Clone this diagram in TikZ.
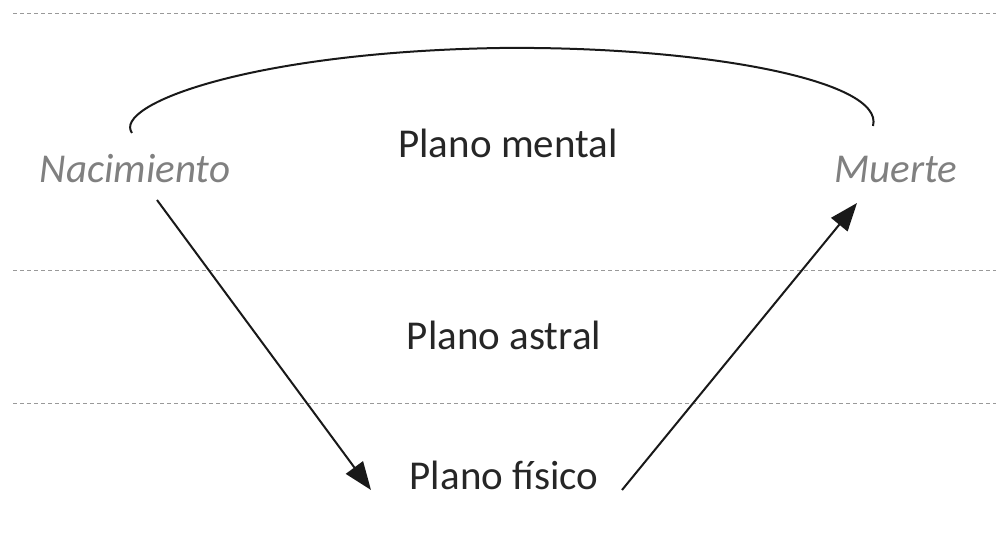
\documentclass[tikz,border=0pt]{standalone}
\usepackage{fontspec}
\setmainfont{Carlito}
\usetikzlibrary{arrows.meta}

\begin{document}
\begin{tikzpicture}[x=0.5pt,y=-0.5pt,
  every node/.style={font=\fontsize{20.5}{24}\selectfont,text=black!85,anchor=base,inner sep=0pt},
  planelabel/.style={},
  eventlabel/.style={font=\fontsize{20.5}{24}\selectfont\itshape,text=black!50},
  planeline/.style={draw=black!40,line width=0.5pt,dash pattern=on 2.2pt off 1.3pt},
  lifeline/.style={draw=black!90,line width=1pt,-{Triangle[length=14pt,width=10.5pt]}}]
\useasboundingbox (0,0) rectangle (996,544);
% planes
\draw[planeline] (13,14) -- (996,14);
\draw[planeline] (13,271) -- (996,271);
\draw[planeline] (13,404) -- (996,404);
\node[planelabel] (mental) at (508,158) {Plano mental};
\node[planelabel] (astral) at (504,350) {Plano astral};
\node[planelabel] (fisico) at (504,490) {Plano físico};
% events
\node[eventlabel] (nac) at (135,183) {Nacimiento};
\node[eventlabel] (mue) at (896,183) {Muerte};
% cycle
\draw[black!90,line width=1pt] ([shift={(-3,-50)}]nac.base)
  .. controls (112,105) and (250,52) .. (500,48)
  .. controls (700,46) and (885,80) .. ([shift={(-23,-57)}]mue.base);
\draw[lifeline] ([shift={(22,17)}]nac.base) -- ([shift={(-133,0)}]fisico.base);
\draw[lifeline] ([shift={(118,0)}]fisico.base) -- ([shift={(-39,20)}]mue.base);
\end{tikzpicture}
\end{document}
